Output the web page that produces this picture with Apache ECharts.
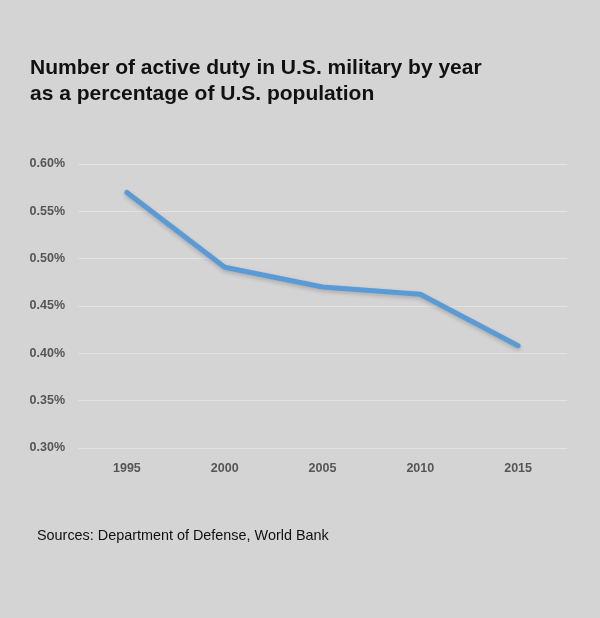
<!DOCTYPE html>
<html>
<head>
<meta charset="utf-8">
<script src="https://cdn.jsdelivr.net/npm/echarts@6/dist/echarts.min.js"></script>
<style>
html,body{margin:0;padding:0;background:#d4d4d4;}
#chart{width:600px;height:618px;}
</style>
</head>
<body>
<div id="chart"></div>
<script>
const years = ['1995', '2000', '2005', '2010', '2015'];
const activeDutyPct = [0.570, 0.491, 0.470, 0.4625, 0.408];
const yTicks = [0.30, 0.35, 0.40, 0.45, 0.50, 0.55, 0.60];
const titleText = 'Number of active duty in U.S. military by year\nas a percentage of U.S. population';
const sourceText = 'Sources: Department of Defense, World Bank';

const chart = echarts.init(document.getElementById('chart'));
chart.setOption({
  backgroundColor: '#d4d4d4',
  animation: false,
  title: {
    text: titleText,
    left: 30,
    top: 55,
    padding: 0,
    textStyle: {
      fontFamily: 'Liberation Sans, Arial, sans-serif',
      fontWeight: 'bold',
      fontSize: 21,
      lineHeight: 26,
      color: '#111'
    }
  },
  graphic: [{
    type: 'text',
    left: 37,
    top: 529,
    style: {
      text: sourceText,
      font: '14.4px "Liberation Sans", Arial, sans-serif',
      fill: '#111'
    }
  }],
  grid: { left: 78, right: 33, top: 164, bottom: 170 },
  xAxis: {
    type: 'category',
    data: years,
    boundaryGap: true,
    axisLine: { show: false },
    axisTick: { show: false },
    axisLabel: {
      color: '#555',
      fontWeight: 'bold',
      fontSize: 12.5,
      fontFamily: 'Liberation Sans, Arial, sans-serif',
      margin: 14
    }
  },
  yAxis: {
    type: 'value',
    min: yTicks[0],
    max: yTicks[yTicks.length - 1],
    interval: 0.05,
    axisLine: { show: false },
    axisTick: { show: false },
    splitLine: { lineStyle: { color: '#e2e2e2', width: 1 } },
    axisLabel: {
      color: '#555',
      fontWeight: 'bold',
      fontSize: 12.5,
      fontFamily: 'Liberation Sans, Arial, sans-serif',
      margin: 13,
      formatter: v => v.toFixed(2) + '%'
    }
  },
  series: [{
    type: 'line',
    data: activeDutyPct,
    symbol: 'none',
    lineStyle: {
      color: '#5b9bd5',
      width: 5,
      cap: 'round',
      join: 'round',
      shadowColor: 'rgba(0,0,0,0.2)',
      shadowBlur: 4,
      shadowOffsetY: 2
    }
  }]
});
</script>
</body>
</html>
